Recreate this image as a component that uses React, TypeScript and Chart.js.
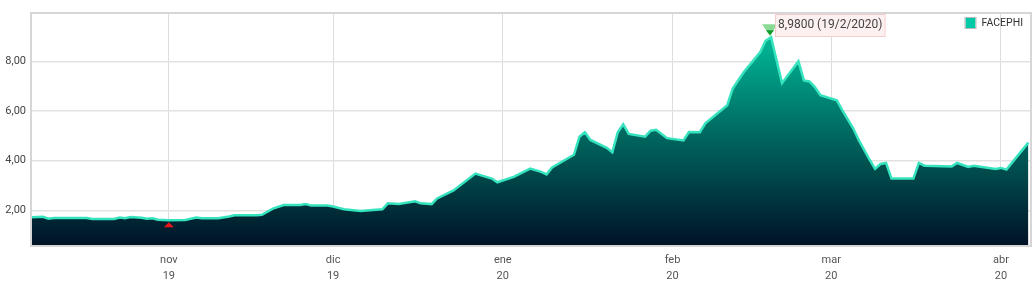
import { useEffect, useRef } from 'react';
import { Chart, registerables } from 'chart.js';
Chart.register(...registerables);

const FONT = 'Roboto, "Liberation Sans", sans-serif';

const seriesName = 'FACEPHI';
const dates = [
  '2019-10-07','2019-10-09','2019-10-10','2019-10-11','2019-10-17','2019-10-18','2019-10-22','2019-10-23','2019-10-24','2019-10-25','2019-10-27','2019-10-28','2019-10-29','2019-10-30',
  '2019-11-01','2019-11-04','2019-11-06','2019-11-07','2019-11-10','2019-11-12','2019-11-13','2019-11-17','2019-11-18','2019-11-20','2019-11-22','2019-11-25','2019-11-26','2019-11-27','2019-11-30',
  '2019-12-01','2019-12-03','2019-12-06','2019-12-10','2019-12-11','2019-12-13','2019-12-16','2019-12-17','2019-12-19','2019-12-20','2019-12-23','2019-12-27','2019-12-30','2019-12-31',
  '2020-01-03','2020-01-06','2020-01-08','2020-01-09','2020-01-10','2020-01-14','2020-01-15','2020-01-16','2020-01-17','2020-01-20','2020-01-21','2020-01-22','2020-01-23','2020-01-24','2020-01-27','2020-01-28','2020-01-29','2020-01-31',
  '2020-02-03','2020-02-04','2020-02-06','2020-02-07','2020-02-11','2020-02-12','2020-02-14','2020-02-17','2020-02-18','2020-02-19','2020-02-21','2020-02-24','2020-02-25','2020-02-26','2020-02-27','2020-02-28',
  '2020-03-02','2020-03-03','2020-03-05','2020-03-06','2020-03-08','2020-03-09','2020-03-10','2020-03-11','2020-03-12','2020-03-16','2020-03-17','2020-03-18','2020-03-23','2020-03-24','2020-03-26','2020-03-27','2020-03-31',
  '2020-04-01','2020-04-02','2020-04-06',
];
const prices = [
  1.72,1.74,1.66,1.69,1.69,1.65,1.65,1.71,1.68,1.73,1.70,1.66,1.68,1.62,
  1.60,1.61,1.71,1.68,1.68,1.75,1.80,1.80,1.82,2.07,2.21,2.21,2.25,2.19,2.19,
  2.15,2.04,1.97,2.04,2.28,2.25,2.36,2.28,2.25,2.48,2.80,3.48,3.28,3.13,
  3.35,3.68,3.55,3.45,3.73,4.24,4.97,5.15,4.84,4.52,4.34,5.15,5.47,5.08,4.97,5.21,5.25,4.91,
  4.82,5.16,5.15,5.51,6.24,6.91,7.57,8.37,8.84,8.98,7.13,8.01,7.24,7.20,6.97,6.64,
  6.44,6.04,5.31,4.84,4.04,3.67,3.87,3.91,3.28,3.28,3.91,3.80,3.77,3.91,3.75,3.80,3.67,
  3.71,3.64,4.73,
];
const monthTickDates = ['2019-11-01','2019-12-01','2020-01-01','2020-02-01','2020-03-01','2020-04-01'];
const monthLabels = ['nov','dic','ene','feb','mar','abr'];
const yearLabels = ['19','19','20','20','20','20'];
const yTicks = [2, 4, 6, 8];
const startDate = '2019-10-07';
const endDate = '2020-04-06';

function dayNum(s: string): number {
  const [y, m, d] = s.split('-').map(Number);
  const [y0, m0, d0] = startDate.split('-').map(Number);
  return Math.round((Date.UTC(y, m - 1, d) - Date.UTC(y0, m0 - 1, d0)) / 86400000);
}
const fmt = (v: number, n: number) => v.toFixed(n).replace('.', ',');

const decoPlugin = {
  id: 'deco',
  afterDatasetsDraw(chart: any) {
    const { ctx, chartArea: a, scales } = chart;
    const xs = scales.x, ys = scales.y;
    ctx.save();
    // frame
    ctx.strokeStyle = '#d6d6d6';
    ctx.lineWidth = 2;
    ctx.strokeRect(a.left - 1, a.top - 1, a.right - a.left + 2, a.bottom - a.top + 2);

    // max marker
    const maxV = Math.max(...prices);
    const mi = prices.indexOf(maxV);
    const px = xs.getPixelForValue(dayNum(dates[mi]));
    const py = ys.getPixelForValue(maxV);
    ctx.fillStyle = 'rgba(125,214,135,0.9)';
    ctx.beginPath();
    ctx.moveTo(px - 9, py - 13);
    ctx.lineTo(px + 6, py - 13);
    ctx.lineTo(px - 1, py - 1);
    ctx.closePath();
    ctx.fill();
    ctx.fillStyle = '#0f9a2a';
    ctx.beginPath();
    ctx.moveTo(px - 5, py - 7);
    ctx.lineTo(px + 3, py - 7);
    ctx.lineTo(px - 1, py - 2);
    ctx.closePath();
    ctx.fill();
    // label box
    const d = dates[mi].split('-').map(Number);
    const label = `${fmt(maxV, 4)} (${d[2]}/${d[1]}/${d[0]})`;
    ctx.font = `12px ${FONT}`;
    const tw = ctx.measureText(label).width;
    const bx = px + 4, by = a.top, bh = 22;
    ctx.fillStyle = '#fdf0f0';
    ctx.fillRect(bx, by, tw + 5, bh);
    ctx.strokeStyle = '#f5cccc';
    ctx.lineWidth = 1;
    ctx.strokeRect(bx + 0.5, by + 0.5, tw + 5, bh);
    ctx.fillStyle = '#444';
    ctx.textBaseline = 'middle';
    ctx.textAlign = 'left';
    ctx.fillText(label, bx + 3, by + bh / 2);

    // min marker
    const minV = Math.min(...prices);
    const ni = prices.indexOf(minV);
    const nx = xs.getPixelForValue(dayNum(dates[ni]));
    const ny = ys.getPixelForValue(minV);
    ctx.fillStyle = '#e8161c';
    ctx.beginPath();
    ctx.moveTo(nx, ny + 2);
    ctx.lineTo(nx + 5, ny + 7);
    ctx.lineTo(nx - 5, ny + 7);
    ctx.closePath();
    ctx.fill();

    // legend
    ctx.font = `10.5px ${FONT}`;
    const lw = ctx.measureText(seriesName).width;
    const lx = a.right - 7 - lw;
    const ly = a.top + 9;
    ctx.fillStyle = '#00c9a7';
    ctx.fillRect(lx - 16, ly - 5, 10, 10);
    ctx.strokeStyle = '#bbbbbb';
    ctx.lineWidth = 1;
    ctx.strokeRect(lx - 16.5, ly - 5.5, 11, 11);
    ctx.fillStyle = '#333';
    ctx.textBaseline = 'middle';
    ctx.fillText(seriesName, lx, ly + 0.5);
    ctx.restore();
  },
};

export default function App() {
  const ref = useRef<HTMLCanvasElement>(null);
  useEffect(() => {
    document.body.style.margin = '0';
    const chart = new Chart(ref.current!, {
      type: 'line',
      data: {
        datasets: [
          {
            label: seriesName,
            data: dates.map((d, i) => ({ x: dayNum(d), y: prices[i] })),
            borderColor: '#36e3bf',
            borderWidth: 2.5,
            pointRadius: 0,
            tension: 0,
            fill: 'start',
            backgroundColor: (c: any) => {
              const a = c.chart.chartArea;
              if (!a) return '#004050';
              const g = c.chart.ctx.createLinearGradient(0, a.top, 0, a.bottom);
              g.addColorStop(0, 'rgb(0,204,164)');
              g.addColorStop(0.5, 'rgb(0,108,98)');
              g.addColorStop(1, 'rgb(0,18,38)');
              return g;
            },
          },
        ],
      },
      options: {
        responsive: false,
        animation: false,
        layout: { padding: { top: 14, right: 3, left: 0, bottom: 0 } },
        plugins: { legend: { display: false }, tooltip: { enabled: false } },
        scales: {
          x: {
            type: 'linear',
            min: 0,
            max: dayNum(endDate) + 0.3,
            afterFit: (s: any) => { s.height = 51; },
            afterBuildTicks: (s: any) => { s.ticks = monthTickDates.map((d) => ({ value: dayNum(d) })); },
            grid: { color: '#dddddd', lineWidth: 1, drawTicks: false },
            border: { display: false },
            ticks: {
              autoSkip: false,
              maxRotation: 0,
              padding: 7,
              color: '#555',
              font: { family: FONT, size: 11, lineHeight: 1.45 },
              callback: (v: any) => {
                const i = monthTickDates.findIndex((d) => dayNum(d) === v);
                return i >= 0 ? [monthLabels[i], yearLabels[i]] : '';
              },
            },
          },
          y: {
            min: 0.6,
            max: 9.92,
            afterFit: (s: any) => { s.width = 32; },
            afterBuildTicks: (s: any) => { s.ticks = yTicks.map((v) => ({ value: v })); },
            grid: { color: '#e2e2e2', lineWidth: 1.5, drawTicks: false },
            border: { display: false },
            ticks: {
              padding: 6,
              color: '#444',
              font: { family: FONT, size: 11 },
              callback: (v: any) => fmt(Number(v), 2),
            },
          },
        },
      },
      plugins: [decoPlugin],
    } as any);
    return () => chart.destroy();
  }, []);
  return (
    <div style={{ position: 'absolute', left: 0, top: 0, width: 1033, height: 296, background: '#fff' }}>
      <canvas ref={ref} width={1033} height={296} />
    </div>
  );
}
